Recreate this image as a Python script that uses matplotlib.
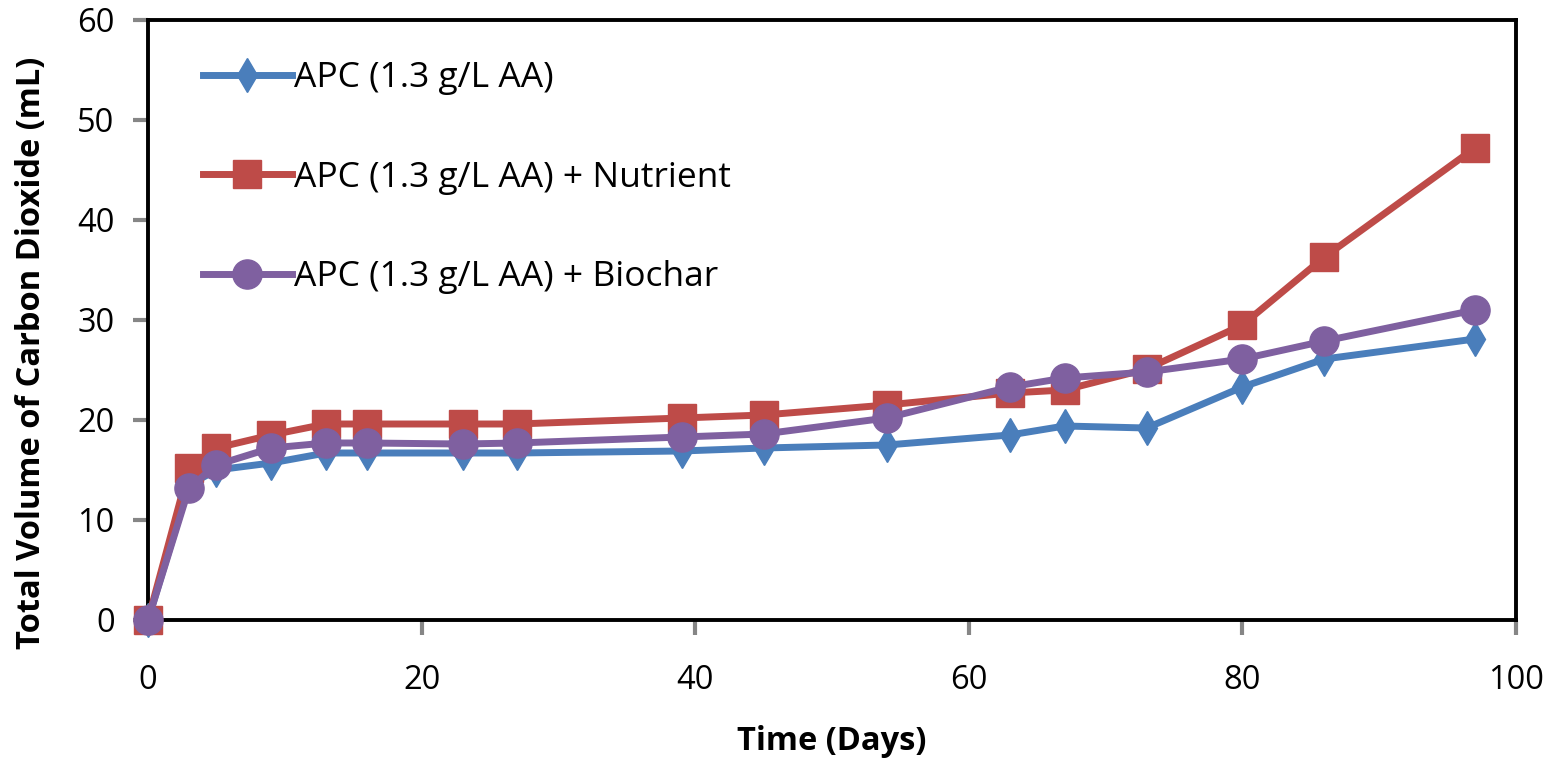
import matplotlib
matplotlib.use("Agg")
import matplotlib.pyplot as plt

plt.rcParams['font.family'] = ['Open Sans', 'DejaVu Sans']

days = [0, 3, 5, 9, 13, 16, 23, 27, 39, 45, 54, 63, 67, 73, 80, 86, 97]
apc = [0, 13.5, 15.0, 15.7, 16.7, 16.7, 16.7, 16.7, 16.9, 17.2, 17.5, 18.5, 19.4, 19.2, 23.3, 26.1, 28.1]
apc_nutrient = [0, 15.2, 17.2, 18.5, 19.6, 19.6, 19.6, 19.6, 20.2, 20.5, 21.5, 22.7, 23.0, 25.1, 29.5, 36.3, 47.2]
apc_biochar = [0, 13.2, 15.5, 17.2, 17.7, 17.7, 17.6, 17.7, 18.3, 18.6, 20.2, 23.3, 24.2, 24.8, 26.1, 27.9, 31.0]

labels = ["APC (1.3 g/L AA)", "APC (1.3 g/L AA) + Nutrient", "APC (1.3 g/L AA) + Biochar"]
xticks = [0, 20, 40, 60, 80, 100]
yticks = [0, 10, 20, 30, 40, 50, 60]

fig = plt.figure(figsize=(15.56, 7.6), dpi=100)
ax = fig.add_axes([148/1556, 1-620/760, 1368/1556, 600/760])

ax.plot(days, apc, color="#4A7EBB", lw=5, marker="d", ms=17, label=labels[0], clip_on=False, zorder=3)
ax.plot(days, apc_nutrient, color="#BE4B48", lw=5, marker="s", ms=20, label=labels[1], clip_on=False, zorder=4)
ax.plot(days, apc_biochar, color="#7F60A0", lw=5, marker="o", ms=21, label=labels[2], clip_on=False, zorder=5)

ax.set_xlim(0, 100)
ax.set_ylim(0, 60)
ax.set_xticks(xticks)
ax.set_yticks(yticks)
ax.tick_params(axis="both", labelsize=23.5, color="#868686", width=3, length=11, direction="out")
ax.tick_params(axis="x", pad=21)
ax.tick_params(axis="y", pad=13)
for s in ax.spines.values():
    s.set_linewidth(2.8)
    s.set_color("black")

ax.set_xlabel("Time (Days)", fontsize=23.5, fontweight="bold", va="center")
ax.xaxis.set_label_coords(0.5, -0.2017)
ax.set_ylabel("Total Volume of Carbon Dioxide (mL)", fontsize=23.5, fontweight="bold", va="center")
ax.yaxis.set_label_coords(-0.085, 0.445)

ax.legend(loc="upper left", bbox_to_anchor=(0.03, 0.955), frameon=False, fontsize=25.5,
          handlelength=2.5, handletextpad=0.05, labelspacing=1.85, borderaxespad=0)

plt.savefig("out.png", dpi=100)
